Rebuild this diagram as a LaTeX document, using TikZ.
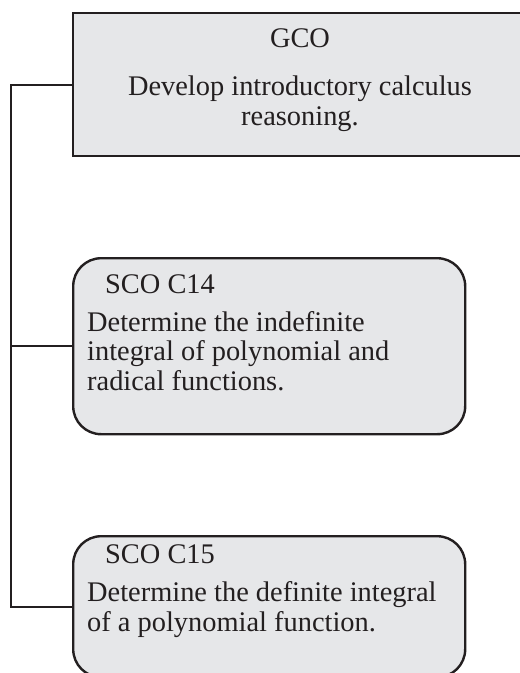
\documentclass[tikz,border=0pt]{standalone}
\usepackage{fontspec}
\setmainfont{Liberation Serif}
\usepackage{tikz}
\usetikzlibrary{positioning}
\definecolor{boxgray}{RGB}{230,231,233}
\definecolor{inkline}{RGB}{35,31,32}

\begin{document}
\begin{tikzpicture}[x=1pt, y=-1pt,
      gcobox/.style={draw=inkline, fill=boxgray, line width=2.4pt,
                     minimum width=456pt, minimum height=143pt, inner sep=0pt},
      scobox/.style={draw=inkline, fill=boxgray, line width=2.4pt,
                     rounded corners=28pt, minimum width=392pt,
                     inner sep=0pt},
      txt/.style={font=\fontsize{28.4}{29.5}\selectfont, inner sep=0pt,
                  text=inkline},
      link/.style={draw=inkline, line width=2.4pt}
  ]
    \clip (0,0) rectangle (520,673);
    % outcome boxes
    \node[gcobox, anchor=north west] (gco) at (72,12) {};
    \node[scobox, anchor=north west, minimum height=176pt] (c14) at (72,257) {};
    \node[scobox, anchor=north west, minimum height=141pt] (c15) at (72,535) {};
    % texts (base = last line)
    \node[txt, anchor=base] (gcot) at (300,47) {GCO};
    \node[txt, anchor=base, align=center] (gcob) at (300,125)
      {Develop introductory calculus\\ reasoning.};
    \node[txt, anchor=base west] (c14t) at (105,293) {SCO C14};
    \node[txt, anchor=base west, align=left] (c14b) at (87,390)
      {Determine the indefinite\\ integral of polynomial and\\ radical functions.};
    \node[txt, anchor=base west] (c15t) at (105,563) {SCO C15};
    \node[txt, anchor=base west, align=left] (c15b) at (87,631)
      {Determine the definite integral\\ of a polynomial function.};
    % bracket
    \draw[link] (gco.west) -- ++(-61,0) |- (c15.west);
    \draw[link] (c14.west) -- ++(-61,0);
  \end{tikzpicture}
\end{document}
